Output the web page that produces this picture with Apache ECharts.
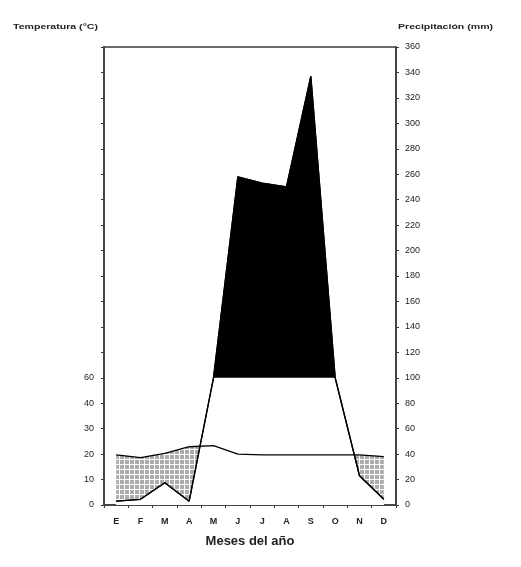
<!DOCTYPE html>
<html>
<head>
<meta charset="utf-8">
<script src="https://cdn.jsdelivr.net/npm/echarts@6/dist/echarts.min.js"></script>
<style>
html,body{margin:0;padding:0;background:#fff;}
#c{width:521px;height:567px;}
</style>
</head>
<body>
<div id="c"></div>
<script>
// ---- data ----
var months = ['E','F','M','A','M','J','J','A','S','O','N','D'];
var temperature = [19.7, 18.6, 20.3, 22.9, 23.3, 20.0, 19.7, 19.7, 19.7, 19.7, 19.7, 19.0]; // °C
var precipitation = [3, 4.5, 17.5, 3, 100, 258, 253, 250, 337, 100, 23, 4.5];            // mm
var tempTickLabels = {0:'0', 10:'10', 20:'20', 30:'30', 40:'40', 50:'60'};
var humidLimit = 100; // mm, above this the area is filled black

// ---- derived for layering ----
var wetBase = months.map(function(){ return humidLimit; });
var wetExcess = precipitation.map(function(p){ return Math.max(p, humidLimit) - humidLimit; });

// grey dotted pattern for the dry period
var pat = document.createElement('canvas');
pat.width = 5; pat.height = 5;
var g = pat.getContext('2d');
g.fillStyle = '#ffffff'; g.fillRect(0,0,5,5);
g.fillStyle = '#acacac'; g.fillRect(0,0,4,4);

var chart = echarts.init(document.getElementById('c'), null, {renderer:'canvas'});
var font = 'Liberation Sans, Arial, sans-serif';
var axisCol = '#3a3a3a';
chart.setOption({
  animation: false,
  backgroundColor: '#fff',
  grid: {left:104, right:125, top:47, bottom:62, show:true, borderColor:axisCol, borderWidth:1.5},
  graphic: [
    {type:'text', x:13, y:23, scaleX:1.32, style:{text:'Temperatura (°C)', font:'bold 8px '+font, fill:'#222'}},
    {type:'text', x:398, y:23, scaleX:1.32, style:{text:'Precipitación (mm)', font:'bold 8px '+font, fill:'#222'}}
  ],
  xAxis: {
    type:'category', data: months, boundaryGap:true,
    axisLine:{lineStyle:{color:axisCol, width:1.5}},
    axisTick:{show:true, length:3, lineStyle:{color:axisCol}},
    axisLabel:{margin:12, fontSize:9, fontWeight:'bold', fontFamily:font, color:'#222'},
    name:'Meses del año', nameLocation:'middle', nameGap:30,
    nameTextStyle:{fontSize:13, fontWeight:'bold', fontFamily:font, color:'#222'}
  },
  yAxis: [
    {
      type:'value', position:'left', min:0, max:180, interval:10,
      axisLine:{show:true, lineStyle:{color:axisCol, width:1.5}},
      axisTick:{show:true, length:3, lineStyle:{color:axisCol}},
      splitLine:{show:false},
      axisLabel:{margin:10, fontSize:9, fontFamily:font, color:'#222',
        formatter:function(v){ return tempTickLabels.hasOwnProperty(v) ? tempTickLabels[v] : ''; }}
    },
    {
      type:'value', position:'right', min:0, max:360, interval:20,
      axisLine:{show:true, lineStyle:{color:axisCol, width:1.5}},
      axisTick:{show:true, length:3, lineStyle:{color:axisCol}},
      splitLine:{show:false},
      axisLabel:{margin:9, fontSize:9, fontFamily:font, color:'#222'}
    }
  ],
  series: [
    {type:'line', yAxisIndex:0, data: temperature, symbol:'none',
     lineStyle:{width:0}, areaStyle:{color:{image:pat, repeat:'repeat'}, opacity:1}},
    {type:'line', yAxisIndex:1, data: precipitation, symbol:'none',
     lineStyle:{color:'#000', width:1.3}, areaStyle:{color:'#fff', opacity:1}},
    {type:'line', yAxisIndex:1, data: wetBase, stack:'wet', symbol:'none',
     lineStyle:{width:0}},
    {type:'line', yAxisIndex:1, data: wetExcess, stack:'wet', symbol:'none',
     lineStyle:{width:0}, areaStyle:{color:'#000', opacity:1}},
    {type:'line', yAxisIndex:0, data: temperature, symbol:'none',
     lineStyle:{color:'#000', width:1.3}},
    {type:'line', yAxisIndex:1, data: precipitation, symbol:'none',
     lineStyle:{color:'#000', width:1.3}}
  ]
});
</script>
</body>
</html>
